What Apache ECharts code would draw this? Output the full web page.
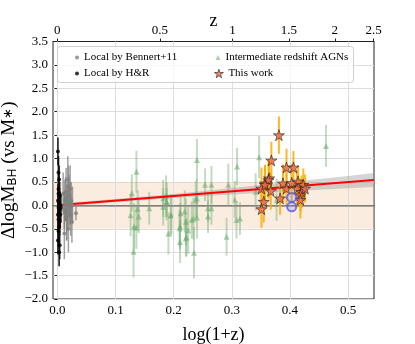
<!DOCTYPE html>
<html>
<head>
<meta charset="utf-8">
<script src="https://cdn.jsdelivr.net/npm/echarts@6/dist/echarts.min.js"></script>
<style>
  html, body { margin: 0; padding: 0; background: #fff; }
  #chart { width: 415px; height: 344px; }
</style>
</head>
<body>
<div id="chart"></div>
<script>
// tick labels
const xTicks = [0, 0.1, 0.2, 0.3, 0.4, 0.5];
const zTicks = [0, 0.5, 1, 1.5, 2, 2.5];

// Local by H&R (black)
const hrX = [0.001, 0.002, 0.003, 0.002, 0.004, 0.001, 0.003, 0.005, 0.002, 0.004, 0.003, 0.001, 0.006, 0.002, 0.004, 0.003, 0.005, 0.002, 0.001, 0.004, 0.003, 0.002];
const hrY = [1.15, 0.7, 0.55, 0.35, 0.2, 0.1, 0.05, 0.0, -0.05, -0.1, -0.15, -0.2, -0.05, -0.3, -0.35, -0.45, -0.2, -0.55, -0.75, -0.85, -1.0, 0.25];
const hrErr = [0.3, 0.35, 0.3, 0.4, 0.3, 0.35, 0.3, 0.3, 0.4, 0.3, 0.35, 0.3, 0.3, 0.35, 0.3, 0.3, 0.3, 0.35, 0.3, 0.3, 0.3, 0.3];

// Local by Bennert+11 (gray)
const bnX = [0.010, 0.012, 0.013, 0.015, 0.016, 0.017, 0.018, 0.019, 0.020, 0.021, 0.022, 0.023, 0.024, 0.025, 0.026, 0.012, 0.014, 0.017, 0.019, 0.022, 0.032, 0.016];
const bnY = [0.25, -0.1, 0.1, 0.3, -0.3, 0.05, 0.55, -0.5, 0.2, -0.05, 0.35, -0.2, 0.1, -0.35, 0.0, -0.6, 0.15, -0.15, 0.4, 0.05, -0.17, -0.25];
const bnErr = [0.45, 0.4, 0.45, 0.5, 0.45, 0.4, 0.5, 0.5, 0.45, 0.4, 0.5, 0.45, 0.4, 0.45, 0.4, 0.55, 0.45, 0.4, 0.45, 0.45, 0.15, 0.5];

// Intermediate redshift AGNs (green)
const imX = [0.128, 0.126, 0.132, 0.136, 0.136, 0.138, 0.140, 0.131, 0.158, 0.182, 0.187, 0.188, 0.191, 0.195, 0.211, 0.212, 0.221, 0.222, 0.225, 0.234, 0.235, 0.240, 0.240, 0.240, 0.254, 0.265, 0.259, 0.265, 0.259, 0.294, 0.309, 0.305, 0.308, 0.314, 0.291, 0.210, 0.219, 0.231, 0.238, 0.188, 0.182, 0.196, 0.211, 0.221, 0.347, 0.341, 0.377, 0.462];
const imY = [0.26, -0.21, -0.45, -0.48, 0.72, -0.08, -0.24, -0.99, -0.06, 0.15, 0.19, 0.06, -0.60, -0.21, -0.45, -0.17, -0.35, -0.68, -0.53, -0.28, -1.01, 0.97, 0.15, -0.26, 0.44, 0.44, -0.06, -0.06, -0.24, 0.44, 0.83, 0.12, -0.31, -0.28, -0.67, -0.49, -0.13, -0.31, 0.12, 0.08, -0.03, -0.21, -0.78, -0.70, 1.03, 0.29, 0.12, 1.27];
const imErr = [0.4, 0.45, 0.5, 0.45, 0.45, 0.4, 0.35, 0.55, 0.35, 0.4, 0.45, 0.3, 0.45, 0.4, 0.5, 0.4, 0.5, 0.4, 0.5, 0.45, 0.55, 0.45, 0.4, 0.45, 0.35, 0.4, 0.3, 0.35, 0.35, 0.45, 0.4, 0.4, 0.4, 0.35, 0.4, 0.4, 0.45, 0.4, 0.4, 0.4, 0.4, 0.45, 0.45, 0.4, 0.45, 0.4, 0.45, 0.45];

// This work (stars)
const twX = [0.381, 0.368, 0.394, 0.406, 0.364, 0.357, 0.351, 0.367, 0.388, 0.394, 0.403, 0.414, 0.423, 0.412, 0.420, 0.426, 0.418, 0.383, 0.418, 0.355, 0.351, 0.363, 0.357];
const twY = [1.50, 0.96, 0.81, 0.81, 0.58, 0.47, 0.36, 0.31, 0.47, 0.36, 0.48, 0.51, 0.44, 0.36, 0.29, 0.36, 0.22, 0.15, 0.12, 0.08, -0.08, 0.54, 0.44];
const twErr = [0.4, 0.4, 0.4, 0.35, 0.4, 0.4, 0.45, 0.4, 0.4, 0.35, 0.4, 0.35, 0.35, 0.4, 0.35, 0.3, 0.35, 0.35, 0.4, 0.45, 0.4, 0.4, 0.4];

// blue circles
const blX = [0.403, 0.403];
const blY = [0.17, -0.03];

// fit line and its confidence band
const fitX = [0, 0.544];
const fitY = [0.0, 0.54];
const bandX = [0, 0.1, 0.2, 0.3, 0.4, 0.5, 0.544];
const bandLo = [-0.04, 0.065, 0.155, 0.23, 0.30, 0.365, 0.39];
const bandHi = [0.04, 0.135, 0.245, 0.37, 0.50, 0.625, 0.69];

const FONT = "Liberation Serif";
const X_MIN = -0.0075, X_MAX = 0.5445;

const STAR_STYLE = { color: "#f2654a", borderColor: "#222", borderWidth: 0.8 };

function zip2(a, b) { return a.map((v, i) => [v, b[i]]); }
function errData(xs, ys, es) { return xs.map((x, i) => [x, ys[i], ys[i] - es[i], ys[i] + es[i]]); }

function errSeries(xs, ys, es, color, width, z) {
  return {
    type: "custom",
    silent: true,
    z: z,
    encode: { x: 0, y: 1 },
    data: errData(xs, ys, es),
    renderItem: function (params, api) {
      const p1 = api.coord([api.value(0), api.value(2)]);
      const p2 = api.coord([api.value(0), api.value(3)]);
      return {
        type: "line",
        shape: { x1: p1[0], y1: p1[1], x2: p2[0], y2: p2[1] },
        style: { stroke: color, lineWidth: width }
      };
    }
  };
}

function legendItem(item, left, top, size) {
  return {
    data: [item], left: left, top: top, itemWidth: size, itemHeight: size, z: 100,
    textStyle: { fontFamily: FONT, fontSize: 11, color: "#000" }
  };
}

const zPos = zTicks.map(z => Math.log10(1 + z));
const minus = s => s.replace("-", "\u2212");
const starPath = "path://M50,0 L61,35 L98,35 L68,57 L79,91 L50,70 L21,91 L32,57 L2,35 L39,35 Z";

const chart = echarts.init(document.getElementById("chart"));
chart.setOption({
  animation: false,
  backgroundColor: "#fff",
  grid: {
    left: 53, top: 41.5, width: 321, height: 257.5, outerBoundsMode: "none", containLabel: false,
    show: true, borderColor: "#222", borderWidth: 1, backgroundColor: "transparent"
  },
  xAxis: [
    {
      type: "value", position: "bottom", min: X_MIN, max: X_MAX,
      name: "log(1+z)", nameLocation: "middle", nameGap: 27,
      nameTextStyle: { fontFamily: FONT, fontSize: 18, color: "#000" },
      axisLine: { show: true, lineStyle: { color: "#222" } },
      axisTick: { show: true, length: 3, customValues: xTicks, lineStyle: { color: "#222" } },
      axisLabel: { customValues: xTicks, margin: 5, fontFamily: FONT, fontSize: 13, color: "#000", formatter: v => v.toFixed(1) },
      splitLine: { show: false }
    },
    {
      type: "value", position: "top", min: X_MIN, max: X_MAX,
      name: "z", nameLocation: "middle", nameGap: 11, nameMoveOverlap: false,
      nameTextStyle: { fontFamily: FONT, fontSize: 18, color: "#000" },
      axisLine: { show: true, lineStyle: { color: "#222" } },
      axisTick: { show: true, length: 3, customValues: zPos, lineStyle: { color: "#222" } },
      axisLabel: {
        customValues: zPos, margin: 4, fontFamily: FONT, fontSize: 13, color: "#000",
        formatter: v => {
          const i = zPos.findIndex(p => Math.abs(p - v) < 1e-6);
          return i >= 0 ? String(zTicks[i]) : "";
        }
      },
      splitLine: { show: false }
    }
  ],
  yAxis: {
    type: "value", min: -2, max: 3.5, interval: 0.5,
    name: "\u0394logM{sub|BH} (vs M{ast|\u2217})", nameLocation: "middle", nameGap: 34, nameMoveOverlap: false,
    nameTextStyle: {
      fontFamily: FONT, fontSize: 19, color: "#000",
      rich: {
        sub: { fontFamily: "DejaVu Sans", fontSize: 12, color: "#000", verticalAlign: "bottom", padding: [8, 0, 0, 0] },
        ast: { fontFamily: FONT, fontSize: 13, color: "#000" }
      }
    },
    axisLine: { show: true, lineStyle: { color: "#222" } },
    axisTick: { show: true, length: 3, lineStyle: { color: "#222" } },
    axisLabel: { margin: 5, fontFamily: FONT, fontSize: 13, color: "#000", formatter: v => minus(v.toFixed(1)) },
    splitLine: { show: true, lineStyle: { color: "#dddddd", width: 1 } }
  },
  legend: [
    legendItem({ name: "Local by Bennert+11", itemStyle: { color: "#808080" } }, 70, 47, 4),
    legendItem({ name: "Local by H&R", itemStyle: { color: "#000" } }, 70, 63, 4),
    legendItem({ name: "Intermediate redshift AGNs", itemStyle: { color: "rgba(110,170,110,0.7)" } }, 210.5, 47, 5),
    legendItem({ name: "This work", itemStyle: STAR_STYLE }, 209, 63, 9)
  ],
  graphic: [
    { type: "rect", left: 57, top: 46, z: 90, shape: { width: 296, height: 36, r: 3 }, style: { fill: "rgba(255,255,255,0.8)", stroke: "#d0d0d0", lineWidth: 1 } }
  ],
  series: [
    {
      type: "line", data: [], silent: true, z: 0, symbol: "none",
      markArea: { silent: true, itemStyle: { color: "rgba(240,200,160,0.32)" }, data: [[{ yAxis: -0.5 }, { yAxis: 0.5 }]] }
    },
    {
      type: "line", data: [], silent: true, z: 1, symbol: "none",
      markLine: {
        silent: true, symbol: "none", label: { show: false },
        lineStyle: { color: "#dddddd", type: "solid", width: 1 },
        data: xTicks.map(v => ({ xAxis: v })).concat([{ yAxis: 0, lineStyle: { color: "#8c8c8c", width: 1.5 } }])
      }
    },
    errSeries(imX, imY, imErr, "rgba(120,175,120,0.45)", 2, 3),
    {
      name: "Intermediate redshift AGNs", type: "scatter", z: 4,
      symbol: "triangle", symbolSize: 6, data: zip2(imX, imY),
      itemStyle: { color: "rgba(110,170,110,0.7)" }
    },
    {
      type: "custom", silent: true, z: 5, encode: { x: 0, y: 1 }, data: [[0.27, 0.27]],
      renderItem: function (params, api) {
        const pts = [];
        for (let i = 0; i < bandX.length; i++) pts.push(api.coord([bandX[i], bandHi[i]]));
        for (let i = bandX.length - 1; i >= 0; i--) pts.push(api.coord([bandX[i], bandLo[i]]));
        return { type: "polygon", shape: { points: pts }, style: { fill: "rgba(150,150,150,0.4)" } };
      }
    },
    {
      type: "line", z: 6, symbol: "none", silent: true, data: zip2(fitX, fitY),
      lineStyle: { color: "#ff0000", width: 2 }
    },
    errSeries(bnX, bnY, bnErr, "rgba(130,130,130,0.75)", 1.5, 7),
    {
      name: "Local by Bennert+11", type: "scatter", z: 7,
      symbol: "circle", symbolSize: 4, data: zip2(bnX, bnY),
      itemStyle: { color: "#808080" }
    },
    errSeries(hrX, hrY, hrErr, "#111", 1.5, 8),
    {
      name: "Local by H&R", type: "scatter", z: 8,
      symbol: "circle", symbolSize: 4, data: zip2(hrX, hrY),
      itemStyle: { color: "#000" }
    },
    errSeries(twX, twY, twErr, "rgba(255,170,0,0.85)", 2, 9),
    {
      name: "This work", type: "scatter", z: 10,
      symbol: starPath, symbolSize: 11, data: zip2(twX, twY),
      itemStyle: STAR_STYLE
    },
    {
      type: "scatter", z: 11, symbol: "circle", symbolSize: 9, data: zip2(blX, blY),
      itemStyle: { color: "rgba(110,110,235,0.25)", borderColor: "#5a5ae0", borderWidth: 2 }
    }
  ]
});
</script>
</body>
</html>
